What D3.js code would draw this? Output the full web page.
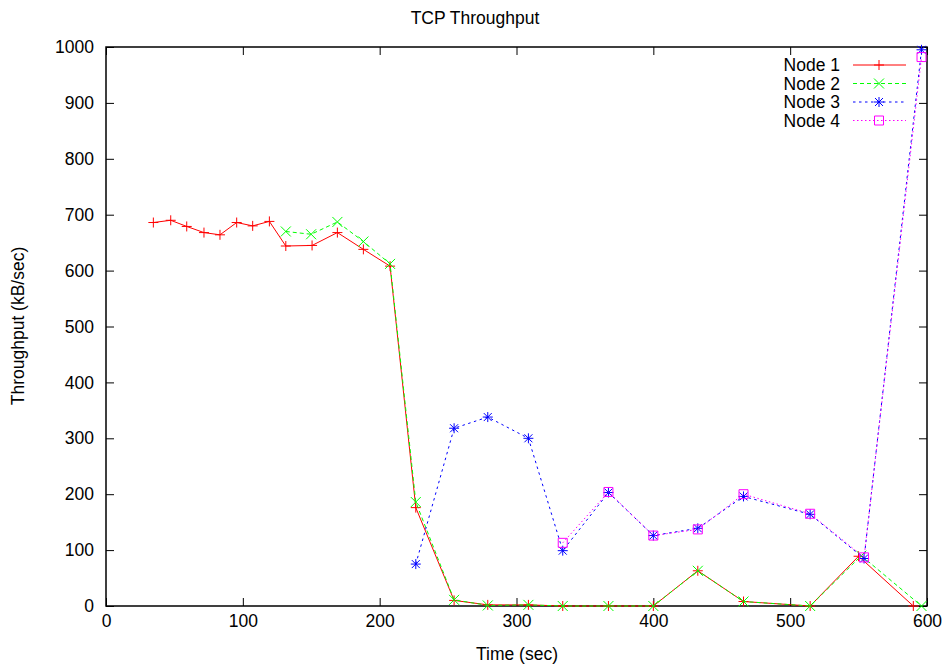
<!DOCTYPE html>
<html>
<head>
<meta charset="utf-8">
<script src="https://cdn.jsdelivr.net/npm/d3@7"></script>
<style>
  body { margin: 0; background: #fff; }
  svg { display: block; }
  text { font-family: "Liberation Sans", Arial, Helvetica, sans-serif; }
</style>
</head>
<body>
<div id="chart"></div>
<script>

// data
var node1X = [34.6, 47.3, 59, 71.6, 83.3, 95.5, 107.2, 119.4, 131.4, 150.6, 169.1, 188.1, 207.6, 226.4, 254.4, 279, 308.7, 333.8, 367.2, 400, 432.5, 465.9, 514.6, 550, 590];
var node1Y = [686, 690, 679, 668, 664, 686, 680, 688, 644, 645, 668, 638, 608, 176, 10, 2, 2, 0, 0, 0, 63, 8, 0, 89, 0];

var node2X = [131.4, 149.9, 169.1, 188.1, 207.6, 226.4, 254.4, 279, 308.7, 333.8, 367.2, 400, 432.5, 465.9, 514.6, 552, 596];
var node2Y = [670, 665, 687, 652, 612, 186, 11, 1, 2, 0, 0, 0, 63, 8, 0, 90, 0];

var node3X = [226.4, 254.4, 279, 308.7, 333.8, 367.2, 400, 432.5, 465.9, 514.6, 554, 596];
var node3Y = [75, 318, 338, 300, 99, 203, 126, 139, 196, 164, 85, 995];

var node4X = [333.8, 367.2, 400, 432.5, 465.9, 514.6, 554, 596];
var node4Y = [113, 204, 126, 137, 200, 165, 87, 982];

var seriesNames = ["Node 1", "Node 2", "Node 3", "Node 4"];
var xTicks = [0, 100, 200, 300, 400, 500, 600];
var yTicks = [0, 100, 200, 300, 400, 500, 600, 700, 800, 900, 1000];

var W = 949, H = 666;
var plotL = 106, plotR = 927, plotT = 47, plotB = 606;

var x = d3.scaleLinear().domain([0, 600]).range([plotL, plotR]);
var y = d3.scaleLinear().domain([0, 1000]).range([plotB, plotT]);

var svg = d3.select("#chart").append("svg")
    .attr("width", W)
    .attr("height", H);

// markers (gnuplot style point types)
var marks = {
    plus: "M-5,0H5M0,-5V5",
    cross: "M-5,-5L5,5M-5,5L5,-5",
    star: "M-5,0H5M0,-5V5M-4,-4L4,4M-4,4L4,-4",
    box: "M-4.5,-4.5H4.5V4.5H-4.5Z"
};

var series = [
    { name: seriesNames[0], xs: node1X, ys: node1Y, color: "#ff0000", dash: null, mark: marks.plus },
    { name: seriesNames[1], xs: node2X, ys: node2Y, color: "#00ff00", dash: "4,3", mark: marks.cross },
    { name: seriesNames[2], xs: node3X, ys: node3Y, color: "#0000ff", dash: "2.5,3.5", mark: marks.star },
    { name: seriesNames[3], xs: node4X, ys: node4Y, color: "#ff00ff", dash: "1.5,2.5", mark: marks.box }
];

// axes, ticks inward on all four sides
function styleAxis(g) {
    g.select(".domain").remove();
    g.selectAll(".tick line").attr("stroke", "#000");
    g.selectAll(".tick text")
        .attr("fill", "#000")
        .style("font-size", "17.5px");
}

svg.append("g")
    .attr("transform", "translate(0," + plotB + ")")
    .call(d3.axisBottom(x).tickValues(xTicks).tickFormat(d3.format("d")).tickSizeInner(-8).tickPadding(9))
    .call(styleAxis);

svg.append("g")
    .attr("transform", "translate(0," + plotT + ")")
    .call(d3.axisTop(x).tickValues(xTicks).tickFormat("").tickSizeInner(-8))
    .call(styleAxis);

svg.append("g")
    .attr("transform", "translate(" + plotL + ",0)")
    .call(d3.axisLeft(y).tickValues(yTicks).tickFormat(d3.format("d")).tickSizeInner(-8).tickPadding(12))
    .call(styleAxis);

svg.append("g")
    .attr("transform", "translate(" + plotR + ",0)")
    .call(d3.axisRight(y).tickValues(yTicks).tickFormat("").tickSizeInner(-8))
    .call(styleAxis);

svg.append("rect")
    .attr("x", plotL)
    .attr("y", plotT)
    .attr("width", plotR - plotL)
    .attr("height", plotB - plotT)
    .attr("fill", "none")
    .attr("stroke", "#000")
    .attr("stroke-width", 1.5);

// lines and points
var line = d3.line()
    .x(function(d) { return x(d[0]); })
    .y(function(d) { return y(d[1]); });

series.forEach(function(s) {
    var pts = s.xs.map(function(v, i) { return [v, s.ys[i]]; });
    var g = svg.append("g");
    g.append("path")
        .datum(pts)
        .attr("d", line)
        .attr("fill", "none")
        .attr("stroke", s.color)
        .attr("stroke-width", 1)
        .attr("stroke-dasharray", s.dash);
    g.selectAll(".pt")
        .data(pts)
        .enter().append("path")
        .attr("transform", function(d) { return "translate(" + x(d[0]) + "," + y(d[1]) + ")"; })
        .attr("d", s.mark)
        .attr("fill", "none")
        .attr("stroke", s.color)
        .attr("stroke-width", 1);
});

// legend
var legend = svg.append("g");
series.forEach(function(s, i) {
    var ly = 65 + i * 18.5;
    legend.append("text")
        .attr("x", 840)
        .attr("y", ly)
        .attr("dy", "0.35em")
        .attr("text-anchor", "end")
        .style("font-size", "17.5px")
        .text(s.name);
    legend.append("line")
        .attr("x1", 853).attr("x2", 906)
        .attr("y1", ly).attr("y2", ly)
        .attr("stroke", s.color)
        .attr("stroke-dasharray", s.dash);
    legend.append("path")
        .attr("transform", "translate(879," + ly + ")")
        .attr("d", s.mark)
        .attr("fill", "none")
        .attr("stroke", s.color);
});

// titles
svg.append("text")
    .attr("x", 475).attr("y", 24)
    .attr("text-anchor", "middle")
    .style("font-size", "17.5px")
    .text("TCP Throughput");

svg.append("text")
    .attr("x", 517).attr("y", 660)
    .attr("text-anchor", "middle")
    .style("font-size", "17.5px")
    .text("Time (sec)");

svg.append("text")
    .attr("transform", "translate(24,326) rotate(-90)")
    .attr("text-anchor", "middle")
    .style("font-size", "17.5px")
    .text("Throughput (kB/sec)");

</script>
</body>
</html>
